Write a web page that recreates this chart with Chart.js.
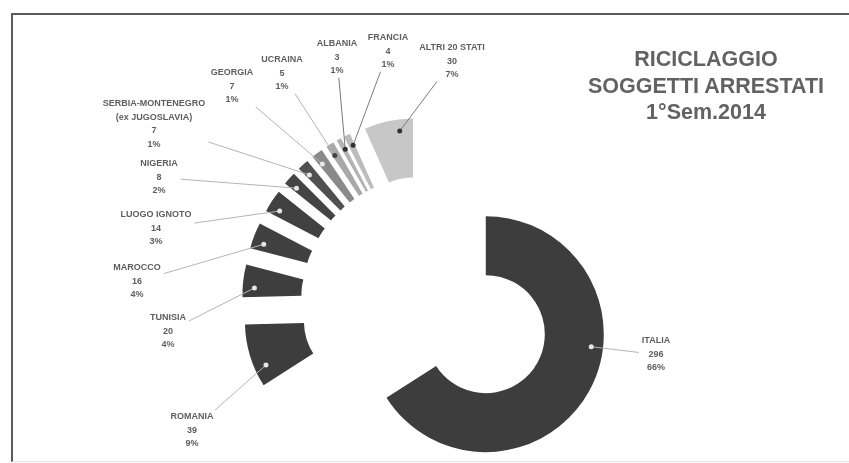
<!DOCTYPE html>
<html>
<head>
<meta charset="utf-8">
<script src="https://cdn.jsdelivr.net/npm/chart.js@4.4.1/dist/chart.umd.min.js"></script>
<style>
  html, body { margin: 0; padding: 0; background: #fff; }
  #wrap { position: relative; width: 849px; height: 463px; overflow: hidden; }
  #frame { position: absolute; left: 11px; top: 13px; width: 840px; height: 446px;
           border-left: 2px solid #5c5c5c; border-top: 2px solid #5c5c5c; border-bottom: 1px solid #e2e2e2; }
  #title { position: absolute; left: 556px; top: 46px; width: 300px; text-align: center;
           font: bold 21.5px/26.5px "Liberation Sans", Arial, sans-serif; color: #626262; }
  canvas { position: absolute; left: 0; top: 0; }
</style>
</head>
<body>
<div id="wrap">
  <div id="frame"></div>
  <canvas id="chart" width="849" height="463"></canvas>
  <div id="title">RICICLAGGIO<br>SOGGETTI ARRESTATI<br>1°Sem.2014</div>
</div>
<script>
// dati: soggetti arrestati per nazionalità
var paesi = ['ITALIA', 'ROMANIA', 'TUNISIA', 'MAROCCO', 'LUOGO IGNOTO', 'NIGERIA',
  ['SERBIA-MONTENEGRO', '(ex JUGOSLAVIA)'], 'GEORGIA', 'UCRAINA', 'ALBANIA', 'FRANCIA', 'ALTRI 20 STATI'];
var arrestati = [296, 39, 20, 16, 14, 8, 7, 7, 5, 3, 4, 30];
var percentuali = ['66%', '9%', '4%', '4%', '3%', '2%', '1%', '1%', '1%', '1%', '1%', '7%'];

// stile
var colori = ['#3d3d3d', '#3d3d3d', '#3e3e3e', '#404040', '#414141', '#444444',
  '#505050', '#8a8a8a', '#a8a8a8', '#b3b3b3', '#bcbcbc', '#c7c7c7'];
var coloriPunto = ['#e6e6e6', '#e6e6e6', '#e6e6e6', '#e6e6e6', '#e6e6e6', '#e6e6e6',
  '#e6e6e6', '#e6e6e6', '#444', '#333', '#333', '#333'];
// centro del testo e riga della prima linea di ogni etichetta
var posEtichette = [[656, 341], [192, 417], [168, 318], [137, 268], [156, 215], [159, 164],
  [154, 104], [232, 73], [282, 60], [337, 44], [388, 38], [452, 48]];
var ESPLOSO = 67;
var RIGA = 13.5;

// sposta ogni fetta lungo la sua bisettrice (esplosione come in Excel)
var esplodi = {
  id: 'esplodi',
  afterDatasetUpdate: function(chart, args) {
    args.meta.data.forEach(function(arc) {
      var mid = (arc.startAngle + arc.endAngle) / 2;
      arc.x += ESPLOSO * Math.cos(mid);
      arc.y += ESPLOSO * Math.sin(mid);
    });
  }
};

// etichette con linee guida
var etichette = {
  id: 'etichette',
  afterDatasetsDraw: function(chart) {
    var ctx = chart.ctx;
    var arcs = chart.getDatasetMeta(0).data;
    ctx.save();
    ctx.font = 'bold 9px "Liberation Sans", Arial, sans-serif';
    arcs.forEach(function(arc, i) {
      var nome = paesi[i];
      var righe = (Array.isArray(nome) ? nome : [nome]).concat([String(arrestati[i]), percentuali[i]]);
      var lx = posEtichette[i][0], ly = posEtichette[i][1];
      var largh = 0;
      righe.forEach(function(t) { largh = Math.max(largh, ctx.measureText(t).width); });
      var cx = lx, cy = ly + (righe.length - 1) * RIGA / 2;
      var hw = largh / 2 + 3, hh = righe.length * RIGA / 2;

      // punto sulla fetta
      var s = arc.startAngle, e = arc.endAngle, mid = (s + e) / 2;
      var a = Math.atan2(cy - arc.y, cx - arc.x);
      while (a < mid - Math.PI) a += 2 * Math.PI;
      while (a > mid + Math.PI) a -= 2 * Math.PI;
      var pad = Math.min((e - s) * 0.3, 0.15);
      a = Math.max(s + pad, Math.min(e - pad, a));
      var rr = arc.innerRadius + 0.8 * (arc.outerRadius - arc.innerRadius);
      var px = arc.x + rr * Math.cos(a), py = arc.y + rr * Math.sin(a);

      // linea dal bordo dell'etichetta al punto
      var dx = px - cx, dy = py - cy;
      var t = Math.min(dx !== 0 ? hw / Math.abs(dx) : 1e9, dy !== 0 ? hh / Math.abs(dy) : 1e9);
      ctx.strokeStyle = i >= 9 ? '#7a7a7a' : '#b4b4b4';
      ctx.lineWidth = 1;
      ctx.beginPath();
      ctx.moveTo(cx + t * dx, cy + t * dy);
      ctx.lineTo(px, py);
      ctx.stroke();

      ctx.fillStyle = coloriPunto[i];
      ctx.beginPath();
      ctx.arc(px, py, 2.5, 0, 2 * Math.PI);
      ctx.fill();

      ctx.fillStyle = '#5e5e5e';
      ctx.textAlign = 'center';
      ctx.textBaseline = 'middle';
      righe.forEach(function(txt, k) {
        ctx.fillText(txt, lx, ly + k * RIGA);
      });
    });
    ctx.restore();
  }
};

var ctx = document.getElementById('chart').getContext('2d');
var grafico = new Chart(ctx, {
  type: 'doughnut',
  data: {
    labels: paesi,
    datasets: [{
      data: arrestati,
      backgroundColor: colori,
      borderWidth: 0,
      clip: false
    }]
  },
  options: {
    responsive: false,
    animation: false,
    events: [],
    radius: 118,
    cutout: '50%',
    rotation: 0,
    layout: { padding: { left: 5, right: 0, top: 141, bottom: 0 } },
    plugins: {
      legend: { display: false },
      tooltip: { enabled: false }
    }
  },
  plugins: [esplodi, etichette]
});
</script>
</body>
</html>
